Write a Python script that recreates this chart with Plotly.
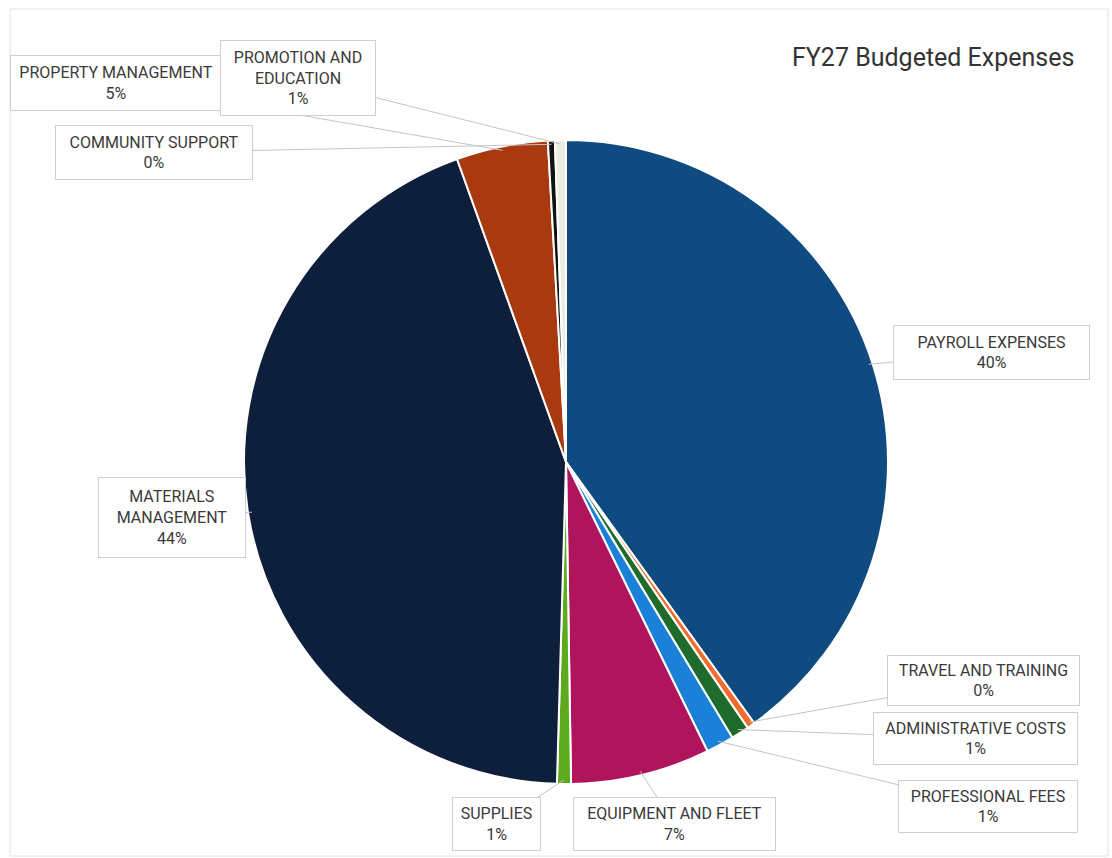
import plotly.graph_objects as go
import math

# ---- data ----
categories = ["PAYROLL EXPENSES", "TRAVEL AND TRAINING", "ADMINISTRATIVE COSTS",
              "PROFESSIONAL FEES", "EQUIPMENT AND FLEET", "SUPPLIES",
              "MATERIALS MANAGEMENT", "PROPERTY MANAGEMENT", "COMMUNITY SUPPORT",
              "PROMOTION AND EDUCATION"]
label_text = ["PAYROLL EXPENSES", "TRAVEL AND TRAINING", "ADMINISTRATIVE COSTS",
              "PROFESSIONAL FEES", "EQUIPMENT AND FLEET", "SUPPLIES",
              "MATERIALS<br>MANAGEMENT", "PROPERTY MANAGEMENT", "COMMUNITY SUPPORT",
              "PROMOTION AND<br>EDUCATION"]
values = [40.1, 0.4, 0.9, 1.4, 7.0, 0.7, 44.1, 4.6, 0.35, 0.55]
colors = ["#0F4A80", "#F26B2B", "#1F6B2C", "#1A80D8", "#B0145C", "#5EAA1E",
          "#0E1F3B", "#A9390F", "#121212", "#ECEBE4"]

# ---- layout constants (pixels) ----
W, H = 1112, 858
cx, cy, R = 566, 462, 322
# label box: (x0, y0, x1, y1)
boxes = [
    (893, 325, 1090, 380),
    (887, 655, 1080, 706),
    (873, 712, 1078, 765),
    (898, 780, 1078, 833),
    (573, 797, 776, 851),
    (452, 797, 541, 851),
    (98, 477, 246, 558),
    (10, 55, 222, 111),
    (55, 125, 253, 180),
    (220, 40, 376, 116),
]

total = sum(values)

fig = go.Figure()
fig.add_trace(go.Pie(
    labels=categories, values=values, sort=False, direction="clockwise",
    rotation=0, marker=dict(colors=colors, line=dict(color="white", width=2)),
    textinfo="none", showlegend=False,
    domain=dict(x=[(cx - R) / W, (cx + R) / W], y=[(H - cy - R) / H, (H - cy + R) / H]),
))

annotations = []
cum = 0.0
for name, txt, v, b in zip(categories, label_text, values, boxes):
    mid = (cum + v / 2) / total * 2 * math.pi
    cum += v
    px = cx + (R - 4) * math.sin(mid)
    py = cy - (R - 4) * math.cos(mid)
    bx = (b[0] + b[2]) / 2
    by = (b[1] + b[3]) / 2
    annotations.append(dict(
        x=px, y=py, xref="x", yref="y",
        ax=bx, ay=by, axref="x", ayref="y",
        text=f"{txt}<br>{v / total:.0%}",
        showarrow=True, arrowhead=0, arrowwidth=1, arrowcolor="#C4C4C4",
        bordercolor="#CFCFCF", borderwidth=1, borderpad=0,
        bgcolor="white",
        width=b[2] - b[0] - 2, height=b[3] - b[1] - 2,
        align="center", valign="middle",
        font=dict(family="Roboto, Noto Sans, sans-serif", size=16, color="#3A3A3A"),
    ))

annotations.append(dict(
    x=1076, y=57, xref="x", yref="y", xanchor="right", yanchor="middle",
    text="FY27 Budgeted Expenses", showarrow=False,
    font=dict(family="Roboto, Noto Sans, sans-serif", size=25, color="#333333"),
))

fig.update_layout(
    width=W, height=H, margin=dict(l=0, r=0, t=0, b=0),
    paper_bgcolor="white", plot_bgcolor="rgba(0,0,0,0)",
    xaxis=dict(range=[0, W], visible=False, fixedrange=True),
    yaxis=dict(range=[H, 0], visible=False, fixedrange=True),
    annotations=annotations,
    shapes=[dict(type="rect", xref="x", yref="y", x0=10, y0=9, x1=1108, y1=856,
                 line=dict(color="#E2E2E2", width=1), layer="below")],
)

fig.write_html("out.html")
